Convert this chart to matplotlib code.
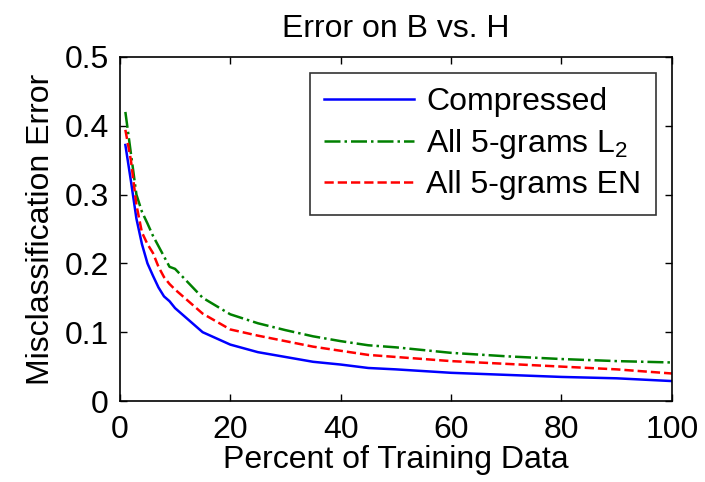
import numpy as np
import matplotlib
matplotlib.use('Agg')
import matplotlib.pyplot as plt

plt.rcParams['font.family'] = ['Liberation Sans', 'DejaVu Sans']
plt.rcParams['mathtext.fontset'] = 'custom'
plt.rcParams['mathtext.rm'] = 'Liberation Sans'

# percent of training data
pct = [1, 2, 3, 4, 5, 6, 7, 8, 9, 10, 15, 20, 25, 30, 35, 40, 45, 50, 60, 70, 80, 90, 100]

# misclassification error
compressed = [0.372, 0.320, 0.265, 0.228, 0.200, 0.182, 0.165, 0.152, 0.145, 0.135,
              0.100, 0.082, 0.071, 0.064, 0.057, 0.053, 0.048, 0.046, 0.041, 0.038,
              0.035, 0.033, 0.029]
all5_l2 = [0.420, 0.360, 0.300, 0.275, 0.258, 0.240, 0.225, 0.210, 0.195, 0.192,
           0.150, 0.126, 0.113, 0.103, 0.094, 0.087, 0.081, 0.078, 0.070, 0.065,
           0.061, 0.058, 0.056]
all5_en = [0.394, 0.350, 0.285, 0.245, 0.228, 0.215, 0.195, 0.180, 0.170, 0.162,
           0.127, 0.104, 0.095, 0.087, 0.079, 0.073, 0.067, 0.064, 0.058, 0.054,
           0.050, 0.046, 0.040]

fs = 23

fig = plt.figure(figsize=(7.05, 4.82), dpi=100)
ax = fig.add_axes([0.170, 0.168, 0.783, 0.714])

ax.plot(pct, compressed, '-', color='#0000ff', lw=1.8, label='Compressed')
ax.plot(pct, all5_l2, '-.', color='#008000', lw=1.8, label='All 5-grams L$_2$')
ax.plot(pct, all5_en, '--', color='#ff0000', lw=1.8, label='All 5-grams EN')

ax.set_xlim(0, 100)
ax.set_ylim(0, 0.5)
ax.set_xticks([0, 20, 40, 60, 80, 100])
ax.set_yticks([0, 0.1, 0.2, 0.3, 0.4, 0.5])
ax.set_yticklabels(['0', '0.1', '0.2', '0.3', '0.4', '0.5'])
ax.tick_params(direction='in', top=True, right=True, labelsize=fs, length=5, width=1)
ax.tick_params(axis='x', pad=10)
ax.tick_params(axis='y', pad=8)
for s in ax.spines.values():
    s.set_linewidth(1.2)

ax.set_title('Error on B vs. H', fontsize=fs, pad=14)
ax.set_xlabel('Percent of Training Data', fontsize=fs, labelpad=0)
ax.set_ylabel('Misclassification Error', fontsize=fs, labelpad=6)

leg = ax.legend(loc='upper right', fontsize=fs, frameon=True, fancybox=False,
                edgecolor='black', handlelength=2.8, handletextpad=0.4, borderpad=0.45,
                labelspacing=0.3, borderaxespad=0.5)
leg.get_frame().set_linewidth(1.2)

fig.savefig('out.png', dpi=100)
